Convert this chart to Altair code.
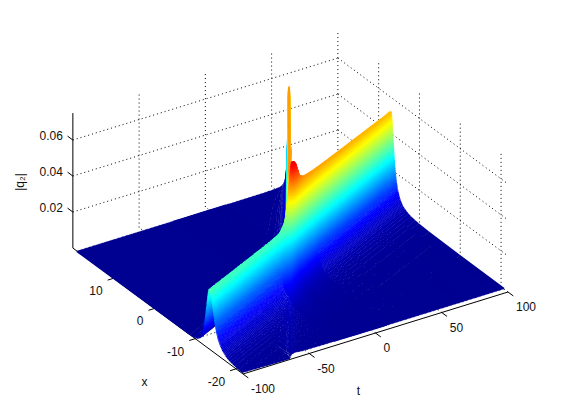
import altair as alt
import numpy as np
import pandas as pd

alt.data_transformers.disable_max_rows()

# --- values ---
t_ticks = [-100, -50, 0, 50, 100]
x_ticks = [-20, -10, 0, 10]
z_ticks = [0.02, 0.04, 0.06]
z_labels = ["0.02", "0.04", "0.06"]
T0, T1 = -100.0, 100.0
X0, X1 = -21.7, 20.0
Z_TOP = 0.075
surf_x1 = 19.0
# near edge of the sheet along the t axis
near_t = [-100, -65, -61, -58, 100]
near_x = [-21.7, -21.7, -21.2, -20.8, -20.7]

# ridge 1: crest position and crest height
ridge1_t = [-100, 100]
ridge1_x = [-13.65, 7.1]
amp1_t = [-100, -22, -16, -12, -9, -5, -1, 3, 100]
amp1_z = [0.034, 0.033, 0.036, 0.046, 0.060, 0.058, 0.055, 0.054, 0.052]
# ridge 2: crest position and crest height
ridge2_t = [-100, -12, 60, 100]
ridge2_x = [-33.2, -4.5, 19.0, 32.0]
amp2_t = [-100, -64, -62, -25, -15, -11, -8, -4, 0, 60, 100]
amp2_z = [0, 0, 0.0015, 0.002, 0.004, 0.008, 0.015, 0.045, 0.055, 0.055, 0.055]
width_product = 0.044
back_width_ratio = 1.21
width2_t = [-100, -10, 0, 60, 100]
width2_a = [1.0, 1.0, 0.5, 0.22, 0.22]
# cross-section of a ridge: distance from crest (in half widths) and relative height
prof_off = [0, 0.05, 0.1, 0.15, 0.2, 0.3, 0.4, 0.5, 0.6, 0.7, 0.8, 0.9, 1.0, 1.2, 1.4,
            1.6, 1.8, 2.0, 2.5, 3.0, 3.5, 4.0, 5.0, 6.0, 8.0, 10.0, 14.0, 20.0, 30.0, 50.0]
prof_val = [1, 0.9975, 0.990, 0.978, 0.962, 0.917, 0.862, 0.80, 0.735, 0.671, 0.61, 0.552, 0.50,
            0.41, 0.338, 0.281, 0.236, 0.20, 0.138, 0.10, 0.075, 0.059, 0.038, 0.027, 0.015,
            0.0099, 0.0051, 0.0025, 0.0011, 0.0004]
# MATLAB jet
jet_pos = [0, 0.125, 0.375, 0.625, 0.875, 1.0]
jet_col = ["#00008f", "#0000ff", "#00ffff", "#ffff00", "#ff0000", "#800000"]
CMAX = 0.075

# --- view: one unit along t, x and z in page pixels ---
PX = "(243 + (datum.{t} + 100) * 1.325 - (datum.{x} + 21.7) * 4.08)"
PY = "(374 - (datum.{t} + 100) * 0.41 - (datum.{x} + 21.7) * 3.02 - datum.{z} * 1800)"


def project(ch):
    return ch.transform_calculate(
        sx=PX.format(t="t", x="x"), sy=PY.format(t="t", x="x", z="z"),
        sx1=PX.format(t="t1", x="x1"), sy1=PY.format(t="t1", x="x1", z="z1"),
    )


xs_scale = alt.Scale(domain=[8, 548], nice=False, zero=False)
ys_scale = alt.Scale(domain=[404, 8], nice=False, zero=False)
X = alt.X("sx:Q", scale=xs_scale, axis=None)
Y = alt.Y("sy:Q", scale=ys_scale, axis=None)


def rules(rows, **kw):
    df = pd.DataFrame(rows, columns=["t", "x", "z", "t1", "x1", "z1"])
    return project(alt.Chart(df)).mark_rule(**kw).encode(
        x=X, y=Y, x2=alt.X2("sx1:Q"), y2=alt.Y2("sy1:Q"))


# --- surface, slice by slice from the far side to the near side ---
t_slices = np.concatenate([np.arange(100, 12, -1.0), np.arange(12, -28, -0.4), np.arange(-28, -100.01, -1.0)])
off = np.array(prof_off)
n_off = len(off)
off_fine = np.interp(np.arange(0, n_off - 1 + 1e-9, 0.25), np.arange(n_off), off)
surf = []
for t in t_slices:
    c1 = np.interp(t, ridge1_t, ridge1_x)
    A1 = np.interp(t, amp1_t, amp1_z)
    a1 = width_product / A1
    c2 = np.interp(t, ridge2_t, ridge2_x)
    A2 = np.interp(t, amp2_t, amp2_z)
    a2 = np.interp(t, width2_t, width2_a)
    x0 = np.interp(t, near_t, near_x)
    xs = np.concatenate([[x0, surf_x1], np.arange(x0, surf_x1, 3.0),
                         c1 + a1 * off_fine, c1 - a1 * off_fine, c2 + a2 * off_fine, c2 - a2 * off_fine])
    xs = np.unique(xs[(xs >= x0) & (xs <= surf_x1)])[::-1]
    front = np.interp(np.abs(xs - c1) / a1, off, prof_val)
    back = np.interp(np.abs(xs - c1) / (a1 * back_width_ratio), off, prof_val) ** 2
    zs = (A1 * np.where(xs > c1, back, front)
          + A2 * np.interp(np.abs(xs - c2) / a2, off, prof_val))
    i = 0
    for j in range(1, len(xs)):
        step = 0.0003 if min(zs[i], zs[j]) < 0.012 else 0.0007
        if abs(zs[j] - zs[i]) > step or j == len(xs) - 1:
            surf.append((round(float(t), 2), round(float(xs[i]), 3), round(float(zs[i]), 5),
                         round(float(t), 2), round(float(xs[j]), 3), round(float(zs[j]), 5)))
            i = j
surf_df = pd.DataFrame(surf, columns=["t", "x", "z", "t1", "x1", "z1"])
surface = project(alt.Chart(surf_df)).transform_calculate(c="(datum.z + datum.z1) / 2").mark_rule(
    strokeWidth=2.0, strokeCap="butt", opacity=1
).encode(
    x=X, y=Y, x2=alt.X2("sx1:Q"), y2=alt.Y2("sy1:Q"),
    color=alt.Color("c:Q", legend=None, scale=alt.Scale(
        domain=[p * CMAX for p in jet_pos], range=jet_col, interpolate="rgb", clamp=True)),
)

# --- dotted grid ---
grid_rows = []
for z in z_ticks:
    grid_rows.append((T0, X1, z, T1, X1, z))
    grid_rows.append((T1, X1, z, T1, X0, z))
for t in t_ticks[1:]:
    grid_rows.append((t, X1, 0, t, X1, Z_TOP))
    grid_rows.append((t, X0, 0, t, X1, 0))
for x in x_ticks:
    grid_rows.append((T1, x, 0, T1, x, Z_TOP))
    grid_rows.append((T0, x, 0, T1, x, 0))
grid = rules(grid_rows, color="black", strokeWidth=1, strokeDash=[1, 3])

# --- axis lines and ticks ---
ax_rows = [(T0, X1, 0, T0, X1, Z_TOP), (T0, X1, 0, T0, X0, 0), (T0, X0, 0, T1, X0, 0)]
ax_rows += [(T0, X1, z, T0, X1 + 1.3, z) for z in z_ticks]
ax_rows += [(T0, x, 0, T0 - 4.5, x, 0) for x in x_ticks]
ax_rows += [(t, X0, 0, t, X0 - 1.3, 0) for t in t_ticks]
axes = rules(ax_rows, color="black", strokeWidth=1)


def text(rows, **kw):
    df = pd.DataFrame(rows, columns=["t", "x", "z", "label"]).assign(t1=0, x1=0, z1=0)
    return project(alt.Chart(df)).mark_text(
        font="Liberation Sans", fontSize=12, color="#111111", baseline="middle", **kw
    ).encode(x=X, y=Y, text="label:N")


t_lab = text([(t, X0, 0, str(t)) for t in t_ticks], align="left", dx=8, dy=15)
x_lab = text([(T0, x, 0, str(x)) for x in x_ticks], align="right", dx=-11, dy=13)
z_lab = text([(T0, X1, z, s) for z, s in zip(z_ticks, z_labels)], align="right", dx=-10, dy=-4)
t_title = text([(0, X0, 0, "t")], align="center", dx=-17, dy=58)
x_title = text([(T0, 0, 0, "x")], align="center", dx=-10, dy=74)
z_title = text([(T0, X1, 0.0367, "|q₂|")], align="center", dy=-53, angle=270)

chart = alt.layer(grid, axes, surface, t_lab, x_lab, z_lab, t_title, x_title, z_title).properties(
    width=540, height=396, padding=0, background="white",
    autosize=alt.AutoSizeParams(type="none"),
).configure_view(strokeWidth=0)

chart.save("out.html", embed_options={"renderer": "svg", "actions": False})
